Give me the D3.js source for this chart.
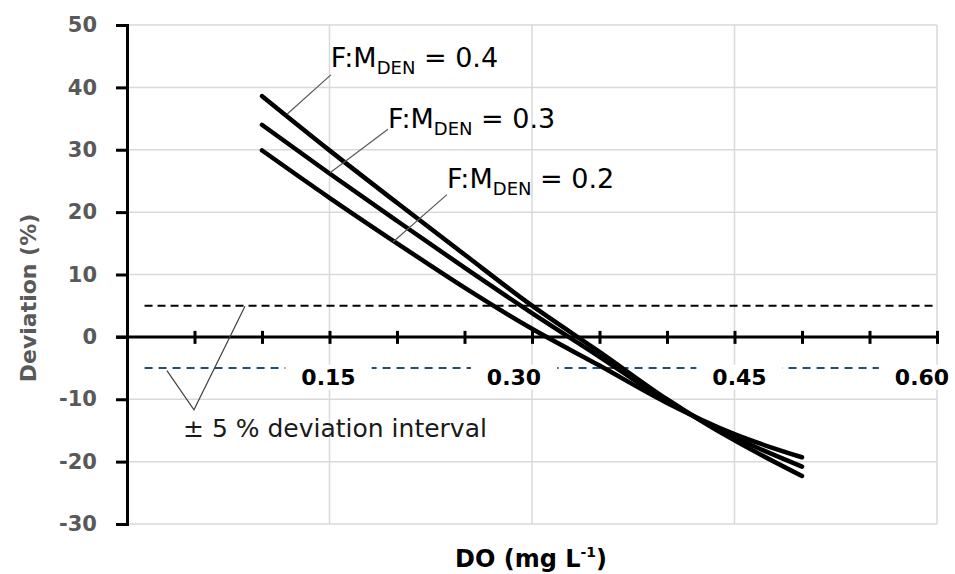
<!DOCTYPE html>
<html>
<head>
<meta charset="utf-8">
<script src="https://cdn.jsdelivr.net/npm/d3@7"></script>
<style>
  body { margin: 0; background: #fff; }
  svg { display: block; font-family: "DejaVu Sans", sans-serif; }
</style>
</head>
<body>
<div id="chart"></div>
<script>
// data
let doValues = [0.10, 0.15, 0.20, 0.25, 0.30, 0.35, 0.40, 0.45, 0.50];
let devFM04 = [38.6, 29.9, 21.5, 13.2, 5.0, -2.4, -10.0, -16.6, -22.3];
let devFM03 = [34.0, 26.2, 18.6, 11.1, 3.8, -3.2, -10.3, -16.1, -20.8];
let devFM02 = [29.9, 22.3, 15.0, 7.9, 1.3, -4.6, -10.6, -15.6, -19.3];
let fmRatios = ["0.4", "0.3", "0.2"];
let yTicks = [-30, -20, -10, 0, 10, 20, 30, 40, 50];
let xMinorTicks = [0.05, 0.10, 0.15, 0.20, 0.25, 0.30, 0.35, 0.40, 0.45, 0.50, 0.55, 0.60];
let xTickLabels = [0.15, 0.30, 0.45, 0.60];
let intervalBounds = [5, -5];

// svg size
let svgWidth = 955;
let svgHeight = 574;

let svg = d3.select("#chart")
    .append("svg")
    .attr("width", svgWidth)
    .attr("height", svgHeight);

svg.append("rect").attr("width", svgWidth).attr("height", svgHeight).attr("fill", "#fff");

// scales
let xScale = d3.scaleLinear().domain([0, 0.6]).range([127, 937]);
let yScale = d3.scaleLinear().domain([-30, 50]).range([524, 25]);

// gridlines
svg.append("g")
    .selectAll("line")
    .data(yTicks.filter(d => d !== 0))
    .enter()
    .append("line")
    .attr("x1", xScale(0))
    .attr("x2", xScale(0.6))
    .attr("y1", d => yScale(d))
    .attr("y2", d => yScale(d))
    .attr("stroke", "#d9d9d9")
    .attr("stroke-width", 1.5);

svg.append("g")
    .selectAll("line")
    .data(xTickLabels)
    .enter()
    .append("line")
    .attr("x1", d => xScale(d))
    .attr("x2", d => xScale(d))
    .attr("y1", yScale(50))
    .attr("y2", yScale(-30))
    .attr("stroke", "#d9d9d9")
    .attr("stroke-width", 1.5);

// +/-5 % interval lines
svg.append("line")
    .attr("x1", xScale(0.013)).attr("x2", xScale(0.6))
    .attr("y1", yScale(intervalBounds[0])).attr("y2", yScale(intervalBounds[0]))
    .attr("stroke", "#000")
    .attr("stroke-width", 2)
    .attr("stroke-dasharray", "8,5");

svg.append("line")
    .attr("x1", xScale(0.013)).attr("x2", xScale(0.6))
    .attr("y1", yScale(intervalBounds[1])).attr("y2", yScale(intervalBounds[1]))
    .attr("stroke", "#1f4e79")
    .attr("stroke-width", 2)
    .attr("stroke-dasharray", "8,6");

// y axis
let leftAxis = d3.axisLeft(yScale).tickValues(yTicks).tickSize(11).tickPadding(19).tickFormat(d => String(d));
let yAxisG = svg.append("g")
    .attr("transform", `translate(${xScale(0)},0)`)
    .call(leftAxis);
yAxisG.select(".domain").attr("stroke", "#000").attr("stroke-width", 3);
yAxisG.selectAll(".tick line").attr("stroke", "#000").attr("stroke-width", 3);
yAxisG.selectAll(".tick text")
    .attr("fill", "#595959")
    .style("font-size", "21px")
    .style("font-weight", "bold")
    .style("font-family", "'DejaVu Sans', sans-serif");

// x axis at y = 0, ticks crossing the line
let bottomAxis = d3.axisBottom(xScale).tickValues(xMinorTicks).tickSize(7).tickFormat("").tickSizeOuter(0);
let xAxisG = svg.append("g")
    .attr("transform", `translate(0,${yScale(0)})`)
    .call(bottomAxis);
xAxisG.select(".domain").attr("stroke", "#000").attr("stroke-width", 3)
    .attr("d", `M${xScale(0) - 11},0H${xScale(0.6)}`);
xAxisG.selectAll(".tick line").attr("stroke", "#000").attr("stroke-width", 3).attr("y1", -6);

// x tick labels with white boxes over the -5 line
let labelNudge = [-1, -18, 5, -15];
let xLab = svg.append("g")
    .selectAll("g")
    .data(xTickLabels)
    .enter()
    .append("g")
    .attr("transform", (d, i) => `translate(${xScale(d) + labelNudge[i]},${yScale(-6.4)})`);
xLab.append("rect")
    .attr("fill", "#fff");
xLab.append("text")
    .attr("text-anchor", "middle")
    .attr("dy", "0.36em")
    .style("font-size", "22px")
    .style("font-weight", "bold")
    .attr("fill", "#000")
    .text(d => d.toFixed(2));
xLab.each(function() {
    let g = d3.select(this);
    let b = g.select("text").node().getBBox();
    g.select("rect")
        .attr("x", b.x - 16).attr("y", b.y)
        .attr("width", b.width + 32).attr("height", b.height);
});

// curves
let line = d3.line()
    .x(d => xScale(d[0]))
    .y(d => yScale(d[1]))
    .curve(d3.curveMonotoneX);

let seriesList = [devFM04, devFM03, devFM02];
svg.append("g")
    .selectAll("path")
    .data(seriesList)
    .enter()
    .append("path")
    .attr("d", s => line(doValues.map((v, i) => [v, s[i]])))
    .attr("fill", "none")
    .attr("stroke", "#000")
    .attr("stroke-width", 4.5)
    .attr("stroke-linecap", "round");

// series labels with leader lines (data units)
let labelAnchors = [[0.151, 43.3], [0.1933, 33.5], [0.237, 23.9]];
let leaderLines = [
    [[0.151, 42.0], [0.1185, 35.7]],
    [[0.1933, 33.3], [0.1504, 26.3]],
    [[0.237, 22.8], [0.197, 15.2]]
];
let leaderLine = d3.line().x(d => xScale(d[0])).y(d => yScale(d[1]));

svg.append("g")
    .selectAll("path")
    .data(leaderLines)
    .enter()
    .append("path")
    .attr("d", d => leaderLine(d))
    .attr("fill", "none")
    .attr("stroke", "#595959")
    .attr("stroke-width", 1.2);

let labs = svg.append("g")
    .selectAll("text")
    .data(fmRatios)
    .enter()
    .append("text")
    .attr("x", (d, i) => xScale(labelAnchors[i][0]))
    .attr("y", (d, i) => yScale(labelAnchors[i][1]))
    .style("font-size", "27px")
    .attr("fill", "#000");
labs.append("tspan").text("F:M");
labs.append("tspan").attr("dy", 7).style("font-size", "18px").text("DEN");
labs.append("tspan").attr("dy", -7).text(d => " = " + d);

// interval annotation
let intervalLeader = [[0.0296, -5.4], [0.0496, -11.7], [0.0874, 4.9]];
svg.append("path")
    .attr("d", leaderLine(intervalLeader))
    .attr("fill", "none")
    .attr("stroke", "#404040")
    .attr("stroke-width", 1.2);

svg.append("text")
    .attr("x", xScale(0.0415))
    .attr("y", yScale(-16.0))
    .style("font-size", "25px")
    .attr("fill", "#1a1a1a")
    .text("\u00b1 5 % deviation interval");

// axis titles
svg.append("text")
    .attr("transform", `translate(36, 298) rotate(-90)`)
    .attr("text-anchor", "middle")
    .style("font-size", "22px")
    .style("font-weight", "bold")
    .attr("fill", "#595959")
    .text("Deviation (%)");

let xTitle = svg.append("text")
    .attr("x", 531)
    .attr("y", 567)
    .attr("text-anchor", "middle")
    .style("font-size", "24px")
    .style("font-weight", "bold")
    .attr("fill", "#000");
xTitle.append("tspan").text("DO (mg L");
xTitle.append("tspan").attr("dy", -10).style("font-size", "14px").text("-1");
xTitle.append("tspan").attr("dy", 10).text(")");
</script>
</body>
</html>
